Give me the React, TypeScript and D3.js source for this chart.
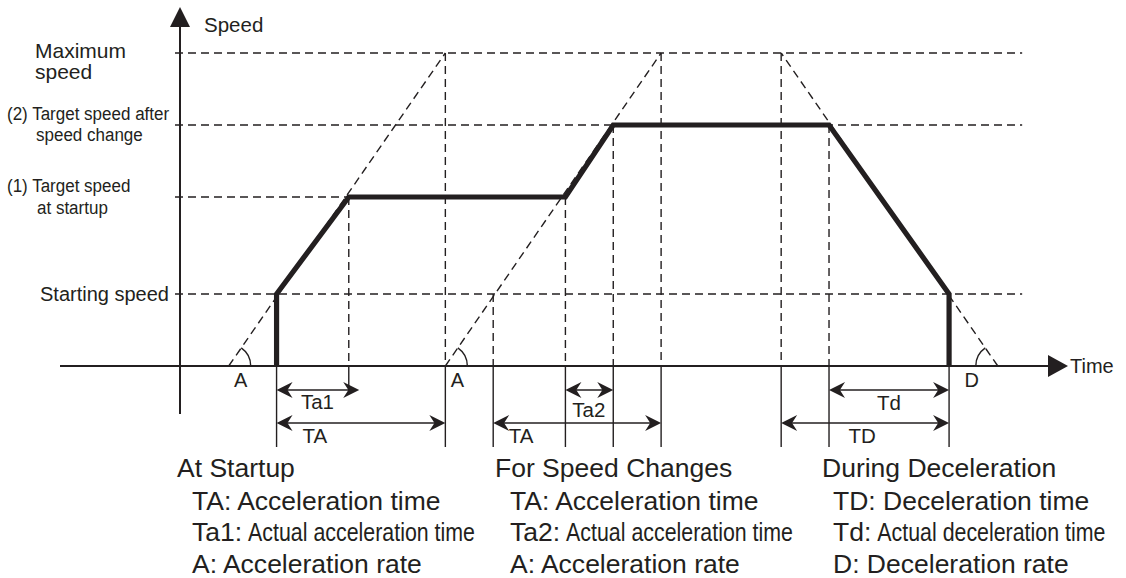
"use client";

import * as d3 from "d3";
import { useEffect, useRef } from "react";

const INK = "#231f20";
const FONT = "'Liberation Sans', Arial, Helvetica, sans-serif";

// speed levels, % of maximum speed
const levelValues = [100, 77, 54, 23];
const levelGuideEnd = [968, 968, 194, 968]; // time (ms) where each dashed guide stops
const levelLabels = [
  ["Maximum", "speed"],
  ["(2) Target speed after", "speed change"],
  ["(1) Target speed", "at startup"],
  ["Starting speed"],
];

// thick speed profile (time ms, speed %)
const profileTime = [111, 111, 194, 443, 498, 746, 884, 884];
const profileSpeed = [0, 23, 54, 54, 77, 77, 23, 0];

// acceleration / deceleration ramps (dashed diagonals)
const rampNames = ["A", "A", "D"];
const rampZeroTime = [56, 305, 940];
const rampMaxTime = [305, 553, 691];

// dashed drop lines from a speed level down to the time axis
const dropTime = [194, 305, 360, 443, 498, 553, 691, 746];
const dropSpeed = [54, 100, 23, 54, 77, 100, 100, 77];

// extension lines under the time axis
const extTime = [111, 194, 305, 360, 443, 498, 553, 691, 746, 884];
const extRow = [2, 0, 2, 2, 2, 2, 2, 2, 2, 2];

// dimension arrows
const dimNames = ["Ta1", "TA", "Ta2", "TA", "Td", "TD"];
const dimStart = [111, 111, 443, 360, 746, 691];
const dimEnd = [206, 305, 498, 553, 884, 884];
const dimRow = [0, 1, 0, 1, 0, 1];
const dimLabelTime = [158, 155, 470, 392, 815, 784];

// notes under the chart
const noteTitles = ["At Startup", "For Speed Changes", "During Deceleration"];
const noteKeys = [
  ["TA:", "Ta1:", "A:"],
  ["TA:", "Ta2:", "A:"],
  ["TD:", "Td:", "D:"],
];
const noteTexts = [
  ["Acceleration time", "Actual acceleration time", "Acceleration rate"],
  ["Acceleration time", "Actual acceleration time", "Acceleration rate"],
  ["Deceleration time", "Actual deceleration time", "Deceleration rate"],
];

const SpeedChart = () => {
  const ref = useRef<SVGSVGElement>(null);

  useEffect(() => {
    const width = 1126;
    const height = 578;
    const svg = d3.select(ref.current);
    svg.attr("width", width).attr("height", height);

    const x = d3.scaleLinear().domain([0, 1000]).range([180, 1050]);
    const y = d3.scaleLinear().domain([0, 100]).range([366, 53]);
    const y0 = y(0);
    const x0 = x(0);
    const rowY = [390, 423, 447];
    const dash = "8 5";

    const g = svg.append("g");

    // horizontal dashed speed guides
    levelValues.forEach((v, i) => {
      g.append("line")
        .attr("x1", x0 - 5)
        .attr("x2", x(levelGuideEnd[i]))
        .attr("y1", y(v))
        .attr("y2", y(v))
        .attr("stroke", INK)
        .attr("stroke-width", 1.4)
        .attr("stroke-dasharray", dash);
    });

    // dashed drop lines
    dropTime.forEach((t, i) => {
      g.append("line")
        .attr("x1", x(t))
        .attr("x2", x(t))
        .attr("y1", y(dropSpeed[i]))
        .attr("y2", y0)
        .attr("stroke", INK)
        .attr("stroke-width", 1.4)
        .attr("stroke-dasharray", dash);
    });

    // dashed ramps + angle arcs
    rampZeroTime.forEach((t, i) => {
      const xa = x(t);
      const xb = x(rampMaxTime[i]);
      g.append("line")
        .attr("x1", xa)
        .attr("y1", y0)
        .attr("x2", xb)
        .attr("y2", y(100))
        .attr("stroke", INK)
        .attr("stroke-width", 1.4)
        .attr("stroke-dasharray", dash);

      const ang = Math.atan2(xb - xa, y0 - y(100));
      const left = xb < xa;
      const arc = d3
        .arc()
        .innerRadius(22)
        .outerRadius(22)
        .startAngle(left ? -Math.PI / 2 : ang)
        .endAngle(left ? ang : Math.PI / 2);
      g.append("path")
        // @ts-ignore
        .attr("d", arc())
        .attr("transform", `translate(${xa},${y0})`)
        .attr("fill", "none")
        .attr("stroke", INK)
        .attr("stroke-width", 1.4);

      g.append("text")
        .attr("x", left ? xa - 26 : xa + 12)
        .attr("y", y0 + 21)
        .attr("text-anchor", "middle")
        .attr("font-family", FONT)
        .attr("font-size", 20)
        .attr("fill", INK)
        .text(rampNames[i]);
    });

    // extension lines under the axis
    extTime.forEach((t, i) => {
      g.append("line")
        .attr("x1", x(t))
        .attr("x2", x(t))
        .attr("y1", y0)
        .attr("y2", rowY[extRow[i]])
        .attr("stroke", INK)
        .attr("stroke-width", 1.4);
    });

    // axes
    g.append("line")
      .attr("x1", 60)
      .attr("x2", x.range()[1])
      .attr("y1", y0)
      .attr("y2", y0)
      .attr("stroke", INK)
      .attr("stroke-width", 2);
    g.append("path")
      .attr(
        "d",
        `M${x.range()[1] + 18},${y0} L${x.range()[1] - 2},${y0 - 11} L${x.range()[1] - 2},${y0 + 11} Z`
      )
      .attr("fill", INK);
    g.append("line")
      .attr("x1", x0)
      .attr("x2", x0)
      .attr("y1", 414)
      .attr("y2", 24)
      .attr("stroke", INK)
      .attr("stroke-width", 2);
    g.append("path")
      .attr("d", `M${x0},7 L${x0 - 10},27 L${x0 + 10},27 Z`)
      .attr("fill", INK);

    g.append("text")
      .attr("x", 204)
      .attr("y", 32)
      .attr("font-family", FONT)
      .attr("font-size", 20.5)
      .attr("fill", INK)
      .text("Speed");
    g.append("text")
      .attr("x", x.range()[1] + 20)
      .attr("y", y0 + 7)
      .attr("font-family", FONT)
      .attr("font-size", 20)
      .attr("fill", INK)
      .text("Time");

    // speed level labels (the two middle ones are set narrow)
    const levelLabelX = [[35, 35], [7, 36], [7, 37], [40]];
    const levelLabelDy = [[5, 26], [-5, 16], [-5, 17], [7]];
    const levelLabelSize = [21, 19, 19, 20];
    const levelLabelScale = [1, 0.895, 0.895, 1];
    levelLabels.forEach((lines, i) => {
      lines.forEach((s, j) => {
        g.append("text")
          .attr(
            "transform",
            `translate(${levelLabelX[i][j]},${y(levelValues[i]) + levelLabelDy[i][j]}) scale(${levelLabelScale[i]},1)`
          )
          .attr("font-family", FONT)
          .attr("font-size", levelLabelSize[i])
          .attr("fill", INK)
          .text(s);
      });
    });

    // thick profile
    const line = d3
      .line<number>()
      .x((t) => x(t))
      .y((_, i) => y(profileSpeed[i]));
    g.append("path")
      .attr("d", line(profileTime))
      .attr("fill", "none")
      .attr("stroke", INK)
      .attr("stroke-width", 5.2)
      .attr("stroke-linejoin", "miter");

    // dimension arrows
    const head = (tip: number, yy: number, dir: number) => {
      const L = 16;
      const Hh = 8;
      return `M${tip},${yy} L${tip - dir * L},${yy - Hh} L${tip - dir * L * 0.68},${yy} L${tip - dir * L},${yy + Hh} Z`;
    };
    const dimLabelDy = [19, 20, 27, 20, 20, 20];
    dimNames.forEach((name, i) => {
      const yy = rowY[dimRow[i]];
      const a = x(dimStart[i]);
      const b = x(dimEnd[i]);
      g.append("line")
        .attr("x1", a + 4)
        .attr("x2", b - 4)
        .attr("y1", yy)
        .attr("y2", yy)
        .attr("stroke", INK)
        .attr("stroke-width", 1.6);
      g.append("path").attr("d", head(a, yy, -1)).attr("fill", INK);
      g.append("path").attr("d", head(b, yy, 1)).attr("fill", INK);
      g.append("text")
        .attr("x", x(dimLabelTime[i]))
        .attr("y", yy + dimLabelDy[i])
        .attr("text-anchor", "middle")
        .attr("font-family", FONT)
        .attr("font-size", 20.5)
        .attr("fill", INK)
        .text(name);
    });

    // notes
    const stretch = 1.04;
    const narrow = 0.855;
    const noteSize = 25.5;
    const noteX = [177, 495, 822];
    const indent = [15, 15, 11];
    const noteY = [477, 510, 541, 573];
    noteTitles.forEach((title, c) => {
      g.append("text")
        .attr("transform", `translate(${noteX[c]},${noteY[0]}) scale(${stretch},1)`)
        .attr("font-family", FONT)
        .attr("font-size", noteSize)
        .attr("fill", INK)
        .text(title);
      noteKeys[c].forEach((k, r) => {
        const lx = noteX[c] + indent[c];
        const ly = noteY[r + 1];
        if (r === 1) {
          const keyText = g
            .append("text")
            .attr("transform", `translate(${lx},${ly}) scale(${stretch},1)`)
            .attr("font-family", FONT)
            .attr("font-size", noteSize)
            .attr("fill", INK)
            .text(k);
          const kw = (keyText.node() as SVGTextElement).getComputedTextLength() * stretch;
          g.append("text")
            .attr("transform", `translate(${lx + kw + 6},${ly}) scale(${narrow},1)`)
            .attr("font-family", FONT)
            .attr("font-size", 25)
            .attr("fill", INK)
            .text(noteTexts[c][r]);
        } else {
          g.append("text")
            .attr("transform", `translate(${lx},${ly}) scale(${stretch},1)`)
            .attr("font-family", FONT)
            .attr("font-size", noteSize)
            .attr("fill", INK)
            .text(`${k} ${noteTexts[c][r]}`);
        }
      });
    });

    return () => {
      svg.selectAll("*").remove();
    };
  }, []);

  return (
    <svg
      ref={ref}
      style={{ position: "absolute", left: 0, top: 0, background: "#fff" }}
    ></svg>
  );
};

export default function App() {
  return <SpeedChart />;
}
